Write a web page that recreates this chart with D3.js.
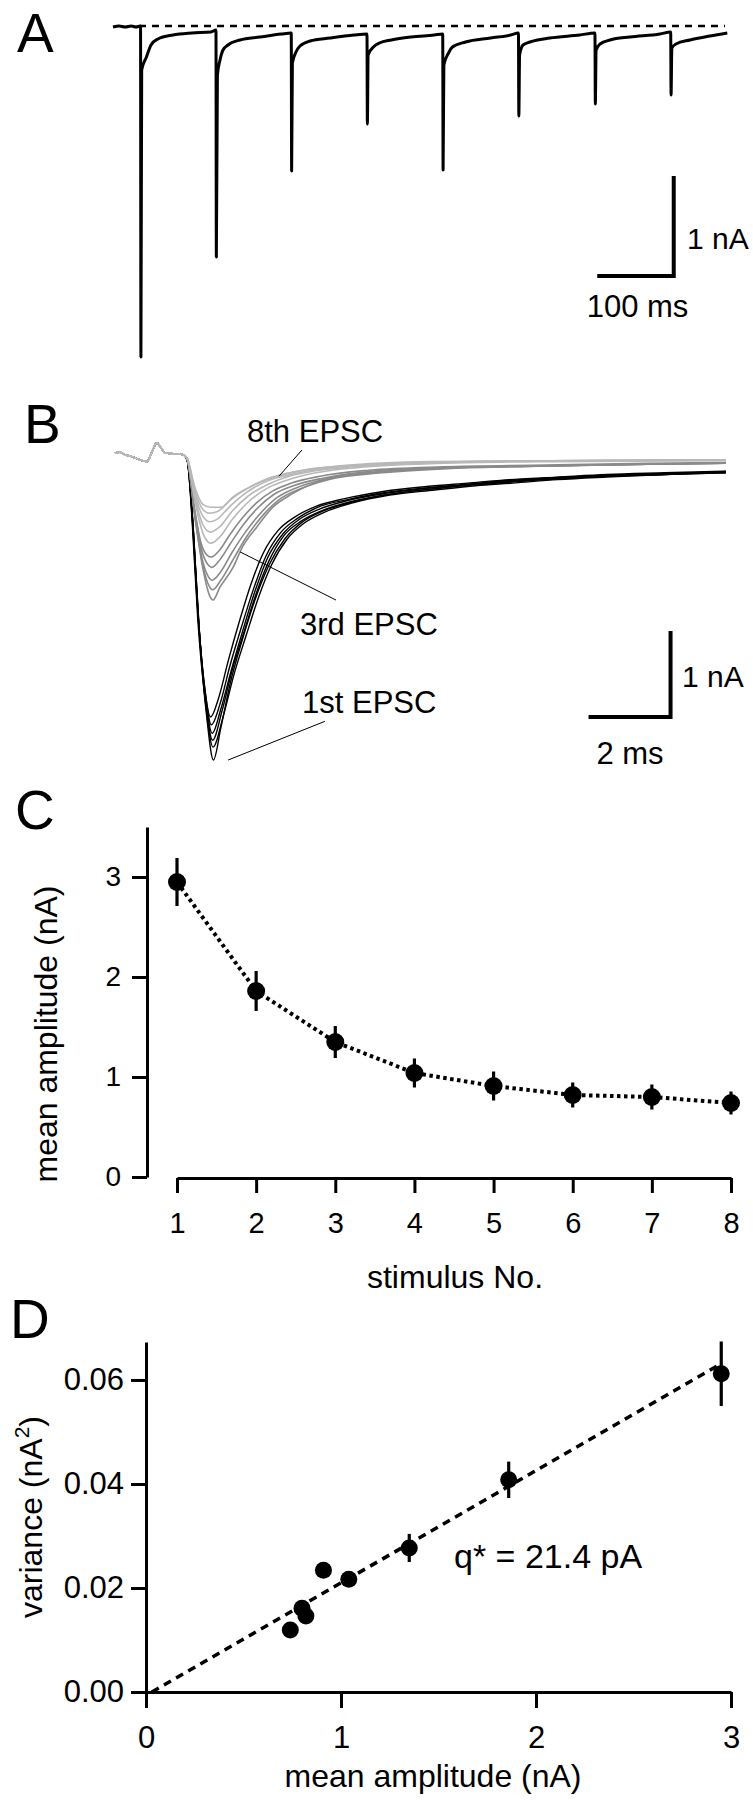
<!DOCTYPE html>
<html><head><meta charset="utf-8">
<script src="https://cdn.jsdelivr.net/npm/d3@7"></script>
<style>body{margin:0;background:#fff}</style>
</head><body>
<script>
// ---------------- DATA ----------------
// Panel A: one sweep of a 10 Hz train (time ms, current nA)
const traceA = [
 [0,-0.01],[8,0.0],[16,-0.01],[24,0.0],[30,-0.01],[36,0.0],
 [36.5,-3.31],[37.5,-0.44],[43.7,-0.31],[49.7,-0.19],[58.8,-0.13],[78.4,-0.09],[103.3,-0.07],[128.1,-0.06],[134.6,-0.04],
 [135.1,-2.31],[136.5,-0.49],[139.9,-0.34],[143.8,-0.24],[150.3,-0.19],[166,-0.14],[192.2,-0.11],[220,-0.08],[233,-0.07],
 [233.5,-1.45],[234.5,-0.37],[239.2,-0.26],[244.4,-0.20],[257.5,-0.15],[283.7,-0.12],[315,-0.09],[332,-0.08],
 [332.5,-0.98],[333.5,-0.29],[340.4,-0.21],[348.2,-0.17],[363.9,-0.14],[390,-0.11],[420,-0.09],[431,-0.08],
 [431.5,-1.44],[432.5,-0.39],[438.6,-0.27],[443.8,-0.21],[460.8,-0.16],[493.5,-0.12],[520,-0.09],[530,-0.07],
 [530.5,-0.90],[531.5,-0.29],[536,-0.19],[545,-0.16],[571,-0.12],[610,-0.09],[630,-0.07],
 [630.5,-0.78],[631.5,-0.24],[636.6,-0.18],[649.7,-0.14],[675.8,-0.11],[715,-0.08],[729,-0.06],
 [729.5,-0.69],[730.5,-0.22],[735.9,-0.18],[754.2,-0.14],[780.4,-0.10],[803,-0.07]
];
const scaleBarA = {t0: 633, t1: 733, i0: -2.5, i1: -1.5, tLabel: "100 ms", iLabel: "1 nA"};

// Panel B: superimposed EPSCs (time ms, current nA)
const artifactB = [[0,0],[0.12,0.01],[0.24,-0.02],[0.4,-0.04],[0.61,-0.08],[0.78,-0.10],[0.9,0.01],[1.02,0.12],[1.12,0.06],[1.22,0.0],[1.46,-0.01],[1.66,-0.02]];
const firstEPSC = [
 [[1.76,-0.08],[1.88,-0.74],[2.02,-1.84],[2.18,-2.70],[2.33,-3.07],[2.52,-2.86],[2.76,-2.42],[3.02,-1.98],[3.32,-1.52],[3.62,-1.16],[3.98,-0.90],[4.4,-0.74],[4.9,-0.62],[5.6,-0.53],[6.5,-0.45],[7.6,-0.39],[8.6,-0.35],[9.6,-0.31],[10.8,-0.28],[12.0,-0.25],[13.4,-0.23],[14.9,-0.21]],
 [[1.76,-0.08],[1.89,-0.78],[2.03,-1.90],[2.2,-2.78],[2.35,-3.16],[2.56,-2.92],[2.8,-2.48],[3.08,-2.03],[3.38,-1.58],[3.68,-1.20],[4.05,-0.92],[4.45,-0.76],[4.9,-0.64],[5.7,-0.54],[6.6,-0.46],[7.7,-0.40],[8.7,-0.36],[9.5,-0.32],[10.7,-0.29],[11.9,-0.26],[13.4,-0.24],[14.9,-0.22]],
 [[1.76,-0.09],[1.9,-0.82],[2.04,-1.98],[2.21,-2.86],[2.37,-3.26],[2.58,-2.98],[2.84,-2.52],[3.12,-2.06],[3.42,-1.6],[3.72,-1.22],[4.08,-0.95],[4.5,-0.77],[5.0,-0.65],[5.7,-0.55],[6.6,-0.47],[7.6,-0.41],[8.5,-0.37],[9.5,-0.33],[10.6,-0.29],[11.8,-0.27],[13.3,-0.24],[14.9,-0.22]],
 [[1.76,-0.08],[1.88,-0.78],[2.02,-1.94],[2.2,-2.87],[2.38,-3.34],[2.61,-3.0],[2.86,-2.52],[3.14,-2.09],[3.44,-1.64],[3.75,-1.26],[4.12,-0.96],[4.55,-0.79],[5.05,-0.67],[5.8,-0.56],[6.7,-0.48],[7.7,-0.42],[8.7,-0.37],[9.6,-0.34],[10.7,-0.30],[11.9,-0.27],[13.4,-0.25],[14.9,-0.23]],
 [[1.77,-0.09],[1.9,-0.84],[2.05,-2.02],[2.22,-2.95],[2.39,-3.42],[2.64,-3.06],[2.9,-2.58],[3.2,-2.12],[3.5,-1.68],[3.82,-1.3],[4.2,-1.0],[4.6,-0.82],[5.1,-0.69],[5.8,-0.58],[6.7,-0.49],[7.8,-0.43],[8.8,-0.38],[9.7,-0.35],[10.8,-0.31],[12.0,-0.28],[13.4,-0.25],[14.9,-0.23]],
 [[1.77,-0.09],[1.91,-0.88],[2.06,-2.1],[2.24,-3.08],[2.4,-3.57],[2.58,-3.2],[2.82,-2.66],[3.1,-2.18],[3.42,-1.7],[3.76,-1.3],[4.14,-1.0],[4.55,-0.81],[5.05,-0.68],[5.8,-0.57],[6.7,-0.48],[7.7,-0.42],[8.7,-0.37],[9.7,-0.33],[10.8,-0.30],[12.0,-0.27],[13.4,-0.25],[14.9,-0.22]]
];
const thirdEPSC = [
 [[1.76,-0.07],[1.93,-0.62],[2.1,-1.05],[2.25,-1.19],[2.35,-1.21],[2.55,-1.13],[2.8,-0.95],[3.1,-0.76],[3.45,-0.58],[3.85,-0.44],[4.3,-0.35],[5.0,-0.27],[6.2,-0.20],[8.0,-0.16],[10.5,-0.14],[13.0,-0.12],[14.9,-0.11]],
 [[1.76,-0.07],[1.94,-0.66],[2.12,-1.14],[2.27,-1.30],[2.36,-1.33],[2.56,-1.24],[2.82,-1.05],[3.12,-0.84],[3.48,-0.64],[3.88,-0.48],[4.35,-0.38],[5.1,-0.29],[6.3,-0.21],[8.1,-0.17],[10.5,-0.15],[13.0,-0.13],[14.9,-0.12]],
 [[1.76,-0.07],[1.94,-0.70],[2.13,-1.24],[2.28,-1.44],[2.37,-1.48],[2.58,-1.38],[2.85,-1.16],[3.18,-0.92],[3.55,-0.70],[3.95,-0.52],[4.4,-0.41],[5.15,-0.30],[6.4,-0.22],[8.2,-0.17],[10.6,-0.15],[13.0,-0.13],[14.9,-0.12]],
 [[1.76,-0.07],[1.95,-0.73],[2.14,-1.30],[2.3,-1.55],[2.38,-1.59],[2.58,-1.48],[2.88,-1.24],[3.2,-0.98],[3.58,-0.74],[3.98,-0.55],[4.45,-0.43],[5.2,-0.31],[6.5,-0.23],[8.2,-0.18],[10.6,-0.15],[13.0,-0.13],[14.9,-0.12]],
 [[1.76,-0.07],[1.95,-0.75],[2.15,-1.36],[2.3,-1.65],[2.39,-1.71],[2.56,-1.56],[2.88,-1.33],[3.1,-1.10],[3.46,-0.86],[3.85,-0.63],[4.34,-0.47],[5.2,-0.30],[6.5,-0.22],[8.2,-0.17],[10.6,-0.15],[13.0,-0.13],[14.9,-0.12]]
];
const eighthEPSC = [
 [[1.76,-0.06],[1.95,-0.40],[2.15,-0.60],[2.32,-0.63],[2.6,-0.63],[2.88,-0.51],[3.27,-0.40],[3.76,-0.29],[4.15,-0.24],[4.6,-0.20],[5.5,-0.15],[7.7,-0.10],[10.6,-0.09],[14.9,-0.08]],
 [[1.76,-0.06],[1.95,-0.44],[2.15,-0.66],[2.3,-0.70],[2.5,-0.68],[2.8,-0.55],[3.2,-0.42],[3.7,-0.31],[4.2,-0.24],[4.7,-0.19],[5.6,-0.15],[7.8,-0.11],[10.6,-0.09],[14.9,-0.08]],
 [[1.76,-0.06],[1.95,-0.48],[2.15,-0.74],[2.32,-0.80],[2.52,-0.76],[2.8,-0.62],[3.2,-0.46],[3.7,-0.33],[4.2,-0.26],[4.8,-0.20],[5.7,-0.15],[7.8,-0.11],[10.6,-0.09],[14.9,-0.08]],
 [[1.76,-0.06],[1.95,-0.52],[2.15,-0.84],[2.33,-0.92],[2.55,-0.86],[2.85,-0.68],[3.25,-0.50],[3.75,-0.36],[4.25,-0.27],[4.85,-0.21],[5.8,-0.16],[7.9,-0.11],[10.6,-0.09],[14.9,-0.08]],
 [[1.76,-0.07],[1.95,-0.56],[2.15,-0.94],[2.34,-1.05],[2.55,-0.98],[2.85,-0.78],[3.25,-0.57],[3.75,-0.40],[4.3,-0.30],[4.9,-0.23],[5.9,-0.17],[8.0,-0.12],[10.6,-0.10],[14.9,-0.09]]
];
const epscLabels = ["8th EPSC", "3rd EPSC", "1st EPSC"];
const epscPointers = [ [[4.56,0.035],[4.0,-0.27]], [[3.05,-1.15],[5.39,-1.71]], [[5.12,-3.12],[2.76,-3.57]] ];
const scaleBarB = {t0: 11.55, t1: 13.55, i0: -3.07, i1: -2.07, tLabel: "2 ms", iLabel: "1 nA"};

// Panel C: mean amplitude vs stimulus number
const stimulusNo = [1,2,3,4,5,6,7,8];
const meanAmp    = [2.95, 1.86, 1.35, 1.04, 0.91, 0.82, 0.80, 0.74];
const meanAmpErr = [0.24, 0.20, 0.16, 0.145, 0.145, 0.125, 0.125, 0.115];
const yTicksC = [0,1,2,3];

// Panel D: variance vs mean amplitude
const varianceVal = [0.0612, 0.0408, 0.0277, 0.0217, 0.0234, 0.0146, 0.0161, 0.0119];
const varianceErr = [0.0062, 0.0035, 0.0027, 0.0010, 0.0010, 0.0010, 0.0012, 0.0008];
const fitLineD = [[0.03, 0.0], [2.93, 0.0627]];
const xTicksD = [0,1,2,3];
const yTicksD = [0, 0.02, 0.04, 0.06];
const fitLabel = "q* = 21.4 pA";

// ---------------- DRAW ----------------
const FONT = '"Liberation Sans", Arial, Helvetica, sans-serif';
const svg = d3.select('body').append('svg').attr('width',753).attr('height',1800)
  .attr('font-family', FONT);
svg.append('rect').attr('width',753).attr('height',1800).attr('fill','#fff');

function txt(x,y,s,size,anchor){
  return svg.append('text').attr('x',x).attr('y',y).attr('font-size',size)
    .attr('text-anchor',anchor||'start').attr('fill','#000').text(s);
}
// panel letters
txt(17,52,'A',55); txt(24,443,'B',55); txt(15,829,'C',55); txt(10,1338,'D',55);

// ---- Panel A ----
const xA = d3.scaleLinear().domain([0,805]).range([113, 113+805*0.765]);
const yA = d3.scaleLinear().domain([0,-3.5]).range([26, 376]);
svg.append('line').attr('x1',xA(34)).attr('x2',xA(800)).attr('y1',yA(0)).attr('y2',yA(0))
  .attr('stroke','#000').attr('stroke-width',2.5).attr('stroke-dasharray','7,6');
svg.append('path').datum(traceA)
  .attr('d', d3.line().x(d=>xA(d[0])).y(d=>yA(d[1])).curve(d3.curveMonotoneX))
  .attr('fill','none').attr('stroke','#000').attr('stroke-width',3).attr('stroke-linejoin','round');
svg.append('path')
  .attr('d', `M${xA(scaleBarA.t0)},${yA(scaleBarA.i0)}H${xA(scaleBarA.t1)}V${yA(scaleBarA.i1)}`)
  .attr('fill','none').attr('stroke','#000').attr('stroke-width',4);
txt(687,249,scaleBarA.iLabel,30);
txt((xA(scaleBarA.t0)+xA(scaleBarA.t1))/2+2,317,scaleBarA.tLabel,31,'middle');

// ---- Panel B ----
const xB = d3.scaleLinear().domain([0,15]).range([115,730]);
const yB = d3.scaleLinear().domain([0,-3.6]).range([453, 453+3.6*86]);
const lineB = d3.line().x(d=>xB(d[0])).y(d=>yB(d[1])).curve(d3.curveMonotoneX);
const groupsB = [
  {traces:firstEPSC, color:'#000', w:1.4},
  {traces:thirdEPSC, color:'#8a8a8a', w:1.6},
  {traces:eighthEPSC, color:'#b8b8b8', w:1.6}
];
groupsB.forEach(g=>{
  svg.append('g').selectAll('path').data(g.traces).join('path')
    .attr('d', d=>lineB(artifactB.concat(d)))
    .attr('fill','none').attr('stroke',g.color).attr('stroke-width',g.w).attr('stroke-linejoin','round');
});
svg.append('g').selectAll('line').data(epscPointers).join('line')
  .attr('x1',d=>xB(d[0][0])).attr('y1',d=>yB(d[0][1]))
  .attr('x2',d=>xB(d[1][0])).attr('y2',d=>yB(d[1][1]))
  .attr('stroke','#000').attr('stroke-width',1);
txt(247,442,epscLabels[0],31);
txt(300,635,epscLabels[1],31);
txt(302,713,epscLabels[2],31);
svg.append('path')
  .attr('d', `M${xB(scaleBarB.t0)},${yB(scaleBarB.i0)}H${xB(scaleBarB.t1)}V${yB(scaleBarB.i1)}`)
  .attr('fill','none').attr('stroke','#000').attr('stroke-width',4);
txt(682,687,scaleBarB.iLabel,30);
txt(630,764,scaleBarB.tLabel,31,'middle');

// ---- Panel C ----
const xC = d3.scaleLinear().domain([1,8]).range([177,731]);
const yC = d3.scaleLinear().domain([0,3.5]).range([1177,827]);
function styleAxis(g,size){
  g.attr('font-family',FONT).attr('font-size',size);
  g.selectAll('path,line').attr('stroke','#000').attr('stroke-width',3);
  g.selectAll('text').attr('fill','#000');
}
svg.append('g').attr('transform','translate(147,0)')
  .call(d3.axisLeft(yC).tickValues(yTicksC).tickSize(15).tickSizeOuter(0).tickPadding(11).tickFormat(d3.format('d')))
  .call(g=>styleAxis(g,28));
svg.append('g').attr('transform','translate(0,1178)')
  .call(d3.axisBottom(xC).tickValues(stimulusNo).tickSize(15).tickSizeOuter(0).tickPadding(19).tickFormat(d3.format('d')))
  .call(g=>styleAxis(g,29));
svg.append('text').attr('transform','translate(57,1034) rotate(-90)').attr('text-anchor','middle')
  .attr('font-size',32).attr('fill','#000').text('mean amplitude (nA)');
txt(455,1288,'stimulus No.',32,'middle');
const cData = stimulusNo.map((s,i)=>({x:s, y:meanAmp[i], e:meanAmpErr[i]}));
svg.append('path').datum(cData)
  .attr('d', d3.line().x(d=>xC(d.x)).y(d=>yC(d.y)))
  .attr('fill','none').attr('stroke','#000').attr('stroke-width',4).attr('stroke-dasharray','3.5,3.5');
svg.append('g').selectAll('line').data(cData).join('line')
  .attr('x1',d=>xC(d.x)).attr('x2',d=>xC(d.x))
  .attr('y1',d=>yC(d.y-d.e)).attr('y2',d=>yC(d.y+d.e))
  .attr('stroke','#000').attr('stroke-width',3.2);
svg.append('g').selectAll('circle').data(cData).join('circle')
  .attr('cx',d=>xC(d.x)).attr('cy',d=>yC(d.y)).attr('r',9).attr('fill','#000');

// ---- Panel D ----
const xD = d3.scaleLinear().domain([0,3]).range([146,731]);
const yD = d3.scaleLinear().domain([0,0.0673]).range([1692,1342]);
svg.append('g').attr('transform','translate(146,0)')
  .call(d3.axisLeft(yD).tickValues(yTicksD).tickSize(15).tickSizeOuter(0).tickPadding(7).tickFormat(d3.format('.2f')))
  .call(g=>styleAxis(g,31));
svg.append('g').attr('transform','translate(0,1692)')
  .call(d3.axisBottom(xD).tickValues(xTicksD).tickSize(16).tickSizeOuter(0).tickPadding(18).tickFormat(d3.format('d')))
  .call(g=>styleAxis(g,31));
const yt = svg.append('text').attr('transform','translate(42,1517) rotate(-90)').attr('text-anchor','middle')
  .attr('font-size',32).attr('fill','#000');
yt.append('tspan').text('variance (nA');
yt.append('tspan').attr('font-size',21).attr('dy',-13).text('2');
yt.append('tspan').attr('dy',13).text(')');
txt(433,1787,'mean amplitude (nA)',32,'middle');
svg.append('path').datum(fitLineD)
  .attr('d', d3.line().x(d=>xD(d[0])).y(d=>yD(d[1])))
  .attr('fill','none').attr('stroke','#000').attr('stroke-width',3.5).attr('stroke-dasharray','8,6');
const dData = meanAmp.map((m,i)=>({x:m, y:varianceVal[i], e:varianceErr[i]}));
svg.append('g').selectAll('line').data(dData).join('line')
  .attr('x1',d=>xD(d.x)).attr('x2',d=>xD(d.x))
  .attr('y1',d=>yD(d.y-d.e)).attr('y2',d=>yD(d.y+d.e))
  .attr('stroke','#000').attr('stroke-width',3.2);
svg.append('g').selectAll('circle').data(dData).join('circle')
  .attr('cx',d=>xD(d.x)).attr('cy',d=>yD(d.y)).attr('r',8.5).attr('fill','#000');
txt(454,1568,fitLabel,34);
</script>
</body></html>
